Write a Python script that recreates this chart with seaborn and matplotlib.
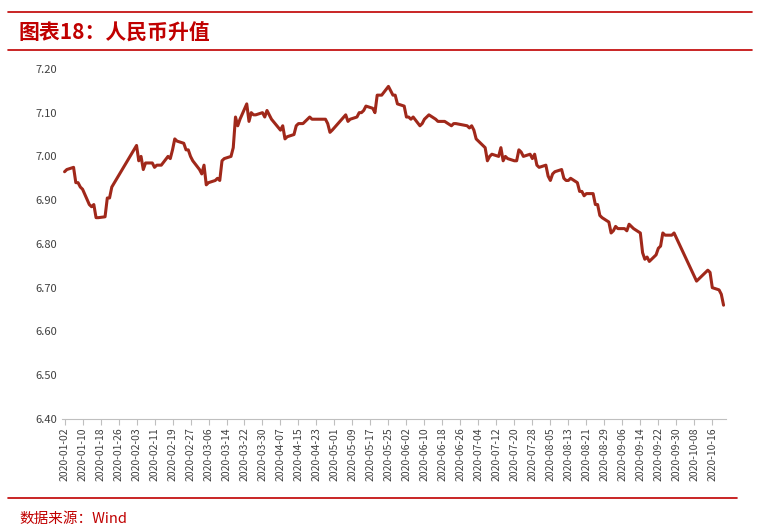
import matplotlib
matplotlib.use("Agg")
import matplotlib.pyplot as plt
import matplotlib.dates as mdates
import seaborn as sns
import pandas as pd
import numpy as np

dates = ["01-02","01-03","01-06","01-07","01-08","01-09","01-10","01-13","01-14","01-15","01-16","01-17","01-20","01-21","01-22","01-23",
"02-03","02-04","02-05","02-06","02-07","02-10","02-11","02-12","02-13","02-14","02-17","02-18","02-19","02-20","02-21","02-24","02-25","02-26","02-27","02-28",
"03-02","03-03","03-04","03-05","03-06","03-09","03-10","03-11","03-12","03-13","03-16","03-17","03-18","03-19","03-20","03-23","03-24","03-25","03-26","03-27","03-30","03-31",
"04-01","04-02","04-03","04-07","04-08","04-09","04-10","04-13","04-14","04-15","04-16","04-17","04-20","04-21","04-22","04-23","04-24","04-27","04-28","04-29","04-30",
"05-06","05-07","05-08","05-11","05-12","05-13","05-14","05-15","05-18","05-19","05-20","05-21","05-22","05-25","05-26","05-27","05-28","05-29",
"06-01","06-02","06-03","06-04","06-05","06-08","06-09","06-10","06-11","06-12","06-15","06-16","06-17","06-18","06-19","06-22","06-23","06-24","06-29","06-30",
"07-01","07-02","07-03","07-06","07-07","07-08","07-09","07-10","07-13","07-14","07-15","07-16","07-17","07-20","07-21","07-22","07-23","07-24","07-27","07-28","07-29","07-30","07-31",
"08-03","08-04","08-05","08-06","08-07","08-10","08-11","08-12","08-13","08-14","08-17","08-18","08-19","08-20","08-21","08-24","08-25","08-26","08-27","08-28","08-31",
"09-01","09-02","09-03","09-04","09-07","09-08","09-09","09-10","09-11","09-14","09-15","09-16","09-17","09-18","09-21","09-22","09-23","09-24","09-25","09-28","09-29",
"10-09","10-12","10-13","10-14","10-15","10-16","10-19","10-20","10-21"]
values = [6.965,6.97,6.975,6.94,6.94,6.93,6.925,6.89,6.885,6.89,6.86,6.86,6.862,6.905,6.905,6.93,
7.025,6.99,7.0,6.97,6.985,6.985,6.975,6.98,6.98,6.98,7.0,6.995,7.015,7.04,7.035,7.03,7.015,7.015,7.0,6.99,
6.97,6.96,6.98,6.935,6.94,6.945,6.95,6.945,6.99,6.995,7.0,7.02,7.09,7.07,7.085,7.12,7.08,7.10,7.095,7.095,7.10,7.09,
7.105,7.095,7.085,7.06,7.07,7.04,7.045,7.05,7.07,7.075,7.075,7.075,7.09,7.085,7.085,7.085,7.085,7.085,7.075,7.055,7.06,
7.095,7.08,7.085,7.09,7.10,7.10,7.105,7.115,7.11,7.10,7.14,7.14,7.14,7.16,7.15,7.14,7.14,7.12,
7.115,7.09,7.09,7.085,7.09,7.07,7.075,7.085,7.09,7.095,7.085,7.08,7.08,7.08,7.08,7.07,7.075,7.075,7.07,7.065,
7.07,7.06,7.04,7.025,7.02,6.99,7.0,7.005,7.0,7.02,6.99,7.0,6.995,6.99,6.99,7.015,7.01,7.0,7.005,6.995,7.005,6.98,6.975,
6.98,6.955,6.945,6.96,6.965,6.97,6.95,6.945,6.945,6.95,6.94,6.92,6.92,6.91,6.915,6.915,6.89,6.89,6.865,6.86,6.85,
6.825,6.83,6.84,6.835,6.835,6.83,6.845,6.84,6.835,6.825,6.78,6.765,6.77,6.76,6.775,6.79,6.795,6.825,6.82,6.82,6.825,
6.715,6.73,6.735,6.74,6.735,6.70,6.695,6.685,6.66]

df = pd.DataFrame({"date": pd.to_datetime(["2020-" + d for d in dates]), "value": values})
tick_dates = pd.date_range("2020-01-02", "2020-10-16", freq="8D")

sns.set_style("white")
plt.rcParams['font.family'] = ['Noto Sans CJK SC', 'DejaVu Sans']
fig = plt.figure(figsize=(7.6, 5.32), dpi=100)
ax = fig.add_axes([0.082, 0.2125, 0.873, 0.658])
sns.lineplot(data=df, x="date", y="value", ax=ax, color="#A0281A", linewidth=2.2)
ax.set_ylim(6.40, 7.20)
ax.set_yticks(np.arange(6.40, 7.201, 0.10))
ax.set_yticklabels([f"{v:.2f}" for v in np.arange(6.40, 7.201, 0.10)], fontsize=8, color="#404040")
ax.set_xlim(pd.Timestamp("2020-01-01"), pd.Timestamp("2020-10-22"))
ax.set_xticks(tick_dates)
ax.set_xticklabels([d.strftime("%Y-%m-%d") for d in tick_dates], rotation=90, fontsize=7.5, color="#404040")
ax.set_xlabel(""); ax.set_ylabel("")
for s in ["left", "top", "right"]:
    ax.spines[s].set_visible(False)
ax.spines["bottom"].set_color("#BFBFBF")
ax.tick_params(axis="x", length=4, color="#BFBFBF", direction="out", bottom=True, pad=2)
ax.tick_params(axis="y", length=0)

red = "#C00000"
fig.add_artist(plt.Line2D([0.01, 0.99], [1 - 12/532]*2, color=red, lw=1.2))
fig.add_artist(plt.Line2D([0.01, 0.99], [1 - 50/532]*2, color=red, lw=1.2))
fig.add_artist(plt.Line2D([0.01, 0.97], [1 - 498/532]*2, color=red, lw=1.2))
fig.text(0.025, 1 - 33/532, "图表18：人民币升值", color=red, fontsize=15, fontweight="bold",
         fontstyle="italic", va="center")
fig.text(0.025, 1 - 519/532, "数据来源：Wind", color=red, fontsize=10.5, va="center")
fig.savefig("out.png", dpi=100)
